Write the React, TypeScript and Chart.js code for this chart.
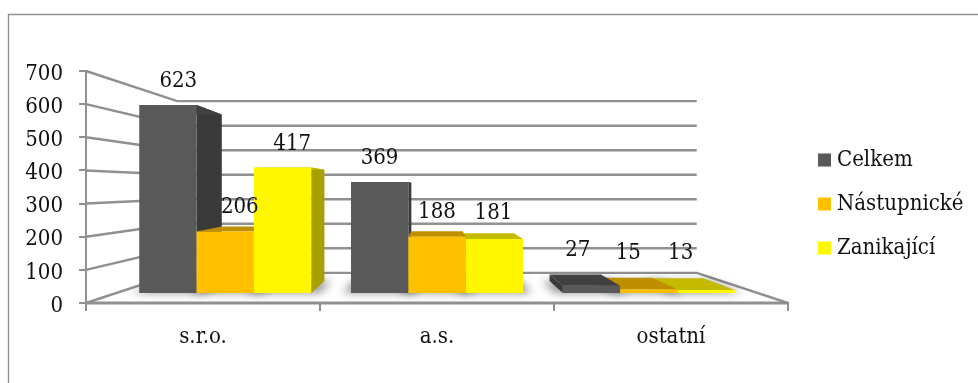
import React, { useEffect, useRef } from "react";
import { Chart, registerables } from "chart.js";

Chart.register(...registerables);

const categories = ["s.r.o.", "a.s.", "ostatní"];
const seriesNames = ["Celkem", "Nástupnické", "Zanikající"];
const celkem = [623, 369, 27];
const nastupnicke = [206, 188, 15];
const zanikajici = [417, 181, 13];
const yTicks = [0, 100, 200, 300, 400, 500, 600, 700];

const frontColors = ["#595959", "#FFC000", "#FFF700"];
const sideColors = ["#3A3A3A", "#8F6C00", "#A89F00"];
const topColors = ["#404040", "#C08F00", "#C4BA00"];

const FONT = "'DejaVu Serif Condensed', 'DejaVu Serif', serif";
const FONT_SIZE = 22;
const TEXT = "#111111";
const LINE = "#909090";

// Perspective: everything recedes towards one vanishing point.
const VP = { x: 437, y: 187 };
const S_WALL = 0.74;
const S_BAR_FRONT = 0.914;
const S_BAR_FRONT_X = 0.905;
const S_BAR_BACK = 0.81;
const S_LABEL = 0.86;
const BAR_DROP = 0.8;

// Small per-label adjustments of the value captions [series][category].
const labelDx = [[-3, -3, -6], [4, 0, -10], [2, 2, -12]];
const labelDy = [[28, 23, 29], [21, 21, 29], [24, 22, 30]];

const proj = (x: number, y: number, s: number, sx: number = s): [number, number] => [
  VP.x + (x - VP.x) * sx,
  VP.y + (y - VP.y) * s,
];

function poly(ctx: CanvasRenderingContext2D, pts: [number, number][]) {
  ctx.beginPath();
  pts.forEach((p, i) => (i ? ctx.lineTo(p[0], p[1]) : ctx.moveTo(p[0], p[1])));
  ctx.closePath();
}

// Moves the axis captions down a little so the digits sit level with their ticks.
function nudgeAxisLabels(scale: any, dy: number) {
  scale.getLabelItems().forEach((item: any) => {
    if (!item.nudged) {
      item.textOffset += dy;
      item.nudged = true;
    }
  });
}

const perspectivePlugin = {
  id: "perspective",
  beforeDraw(chart: any) {
    const { ctx, width, height, scales } = chart;
    nudgeAxisLabels(scales.y, 3);
    nudgeAxisLabels(scales.x, 1.5);
    ctx.save();
    ctx.strokeStyle = "#929292";
    ctx.lineWidth = 1.4;
    ctx.beginPath();
    ctx.moveTo(8.5, height + 2);
    ctx.lineTo(8.5, 14.5);
    ctx.lineTo(width + 2, 14.5);
    ctx.stroke();
    ctx.restore();
  },
  beforeDatasetsDraw(chart: any) {
    const { ctx, chartArea, scales } = chart;
    const { left, right, bottom } = chartArea;
    ctx.save();
    ctx.strokeStyle = LINE;
    ctx.lineWidth = 2.4;
    ctx.lineJoin = "miter";

    // Side wall and back wall gridlines, one for each axis value.
    yTicks.forEach((v) => {
      const y = scales.y.getPixelForValue(v);
      const a = proj(left, y, S_WALL);
      const b = proj(right, y, S_WALL);
      ctx.beginPath();
      ctx.moveTo(left, y);
      ctx.lineTo(a[0], a[1]);
      ctx.lineTo(b[0], b[1]);
      if (v === 0) ctx.lineTo(right, y);
      ctx.stroke();
    });
    ctx.lineWidth = 3;
    ctx.beginPath();
    ctx.moveTo(left, bottom);
    ctx.lineTo(right, bottom);
    ctx.stroke();
    ctx.restore();

    // Collect the bars, farthest from the vanishing point first.
    const bars: any[] = [];
    chart.data.datasets.forEach((_: any, d: number) => {
      chart.getDatasetMeta(d).data.forEach((el: any) => {
        bars.push({ d, l: el.x - el.width / 2, r: el.x + el.width / 2, top: el.y, base: el.base, cx: el.x });
      });
    });
    bars.sort((p, q) => Math.abs(q.cx - VP.x) - Math.abs(p.cx - VP.x));

    ctx.save();
    ctx.translate(0, BAR_DROP);

    // Soft shadow on the floor around each group of bars.
    ctx.save();
    ctx.filter = "blur(4px)";
    ctx.fillStyle = "rgba(0,0,0,0.42)";
    bars.forEach((b) => {
      poly(ctx, [
        proj(b.l - 9, b.base, S_BAR_FRONT, S_BAR_FRONT_X),
        proj(b.r + 9, b.base, S_BAR_FRONT, S_BAR_FRONT_X),
        proj(b.r + 9, b.base, S_BAR_BACK),
        proj(b.l - 9, b.base, S_BAR_BACK),
      ]);
      ctx.fill();
    });
    ctx.restore();

    bars.forEach((b) => {
      const fl = proj(b.l, b.top, S_BAR_FRONT, S_BAR_FRONT_X);
      const fr = proj(b.r, b.top, S_BAR_FRONT, S_BAR_FRONT_X);
      const bl = proj(b.l, b.top, S_BAR_BACK);
      const br = proj(b.r, b.top, S_BAR_BACK);
      const flb = proj(b.l, b.base, S_BAR_FRONT, S_BAR_FRONT_X);
      const frb = proj(b.r, b.base, S_BAR_FRONT, S_BAR_FRONT_X);
      const blb = proj(b.l, b.base, S_BAR_BACK);
      const brb = proj(b.r, b.base, S_BAR_BACK);
      ctx.fillStyle = sideColors[b.d];
      if (fr[0] < VP.x) {
        poly(ctx, [fr, br, brb, frb]);
        ctx.fill();
      }
      if (fl[0] > VP.x) {
        poly(ctx, [fl, bl, blb, flb]);
        ctx.fill();
      }
      ctx.fillStyle = topColors[b.d];
      poly(ctx, [fl, fr, br, bl]);
      ctx.fill();
      ctx.fillStyle = frontColors[b.d];
      poly(ctx, [fl, fr, frb, flb]);
      ctx.fill();
    });
    ctx.restore();
  },
  beforeDatasetDraw() {
    // Bars are painted in depth order above, not dataset by dataset.
    return false;
  },
  afterDatasetsDraw(chart: any) {
    const { ctx } = chart;
    ctx.save();
    ctx.font = `${FONT_SIZE}px ${FONT}`;
    ctx.fillStyle = TEXT;
    ctx.textAlign = "center";
    ctx.textBaseline = "middle";
    chart.data.datasets.forEach((ds: any, d: number) => {
      chart.getDatasetMeta(d).data.forEach((el: any, i: number) => {
        const p = proj(el.x, el.y, S_LABEL);
        ctx.fillText(String(ds.data[i]), p[0] + labelDx[d][i], p[1] - labelDy[d][i]);
      });
    });
    ctx.restore();
  },
  afterLayout(chart: any) {
    // The legend floats to the right of the plot.
    const lg = chart.legend;
    const w = lg.width;
    const h = lg.height;
    lg.left = 801;
    lg.right = 801 + w;
    lg.top = 127;
    lg.bottom = 127 + h;
  },
};

export default function App() {
  const ref = useRef<HTMLCanvasElement>(null);
  useEffect(() => {
    document.body.style.margin = "0";
    const series = [celkem, nastupnicke, zanikajici];
    const chart = new Chart(ref.current!, {
      type: "bar",
      data: {
        labels: categories,
        datasets: series.map((data, i) => ({
          label: seriesNames[i],
          data,
          backgroundColor: frontColors[i],
          barPercentage: 1,
          categoryPercentage: 0.812,
        })),
      },
      plugins: [perspectivePlugin],
      options: {
        animation: false,
        responsive: false,
        devicePixelRatio: 1,
        layout: { padding: { left: 0, top: 71, right: 190, bottom: 0 } },
        scales: {
          x: {
            ticks: { color: TEXT, font: { family: FONT, size: FONT_SIZE }, padding: 12, maxRotation: 0, autoSkip: false },
            grid: { drawOnChartArea: false, drawTicks: true, tickLength: 8, color: LINE, lineWidth: 2 },
            border: { display: true, color: LINE, width: 2 },
            afterFit: (s: any) => { s.height = 80; },
          },
          y: {
            min: 0,
            max: 700,
            afterBuildTicks: (s: any) => { s.ticks = yTicks.map((value) => ({ value })); },
            ticks: { color: TEXT, font: { family: FONT, size: FONT_SIZE }, padding: 16 },
            grid: { drawOnChartArea: false, drawTicks: true, tickLength: 7, color: LINE, lineWidth: 2 },
            border: { display: true, color: LINE, width: 2 },
            afterFit: (s: any) => { s.width = 86; },
          },
        },
        plugins: {
          tooltip: { enabled: false },
          title: { display: false },
          legend: {
            display: true,
            position: "chartArea",
            align: "start",
            labels: {
              color: TEXT,
              font: { family: FONT, size: FONT_SIZE },
              boxWidth: 3,
              boxHeight: 3,
              padding: 22,
              generateLabels: (c: any) =>
                c.data.datasets.map((ds: any, i: number) => ({
                  text: ds.label,
                  fillStyle: ds.backgroundColor,
                  strokeStyle: ds.backgroundColor,
                  lineWidth: 10,
                  datasetIndex: i,
                  fontColor: TEXT,
                })),
            },
          },
        },
      },
    } as any);
    return () => chart.destroy();
  }, []);
  return <canvas ref={ref} width={978} height={383} style={{ display: "block", width: 978, height: 383 }} />;
}
